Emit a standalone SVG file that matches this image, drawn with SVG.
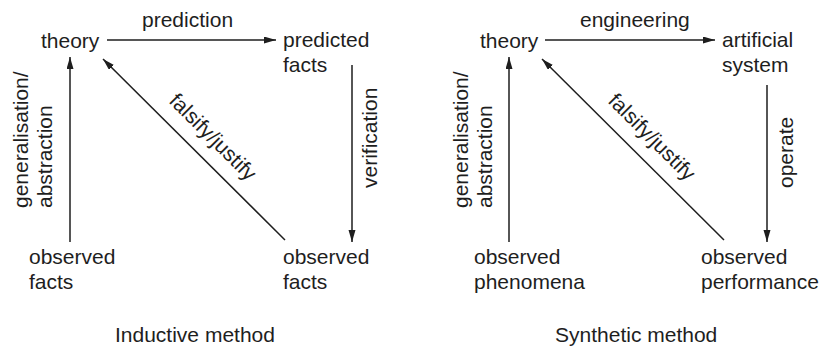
<svg xmlns="http://www.w3.org/2000/svg" width="824" height="354" viewBox="0 0 824 354">
<defs>
<style>
text{font-family:"Liberation Sans",Arial,sans-serif;font-size:21px;fill:#1e1e1e}
.c{stroke:#1e1e1e;stroke-width:1.5;fill:none;marker-end:url(#ah)}
</style>
<marker id="ah" markerUnits="userSpaceOnUse" markerWidth="13" markerHeight="8" refX="12" refY="3.5" orient="auto">
<path d="M0,0 L12,3.5 L0,7 z" fill="#1e1e1e"/>
</marker>
</defs>
<rect width="824" height="354" fill="#ffffff"/>
<g id="connectors">
<line class="c" x1="107" y1="40" x2="276" y2="40"/>
<line class="c" x1="352" y1="65" x2="352" y2="242"/>
<line class="c" x1="70" y1="242" x2="70" y2="57"/>
<line class="c" x1="285" y1="240" x2="103" y2="59"/>
<line class="c" x1="545" y1="40" x2="715" y2="40"/>
<line class="c" x1="767" y1="85" x2="767" y2="242"/>
<line class="c" x1="509" y1="242" x2="509" y2="57"/>
<line class="c" x1="724" y1="240" x2="542" y2="59"/>
</g>
<g id="labels">
<text x="142" y="27">prediction</text>
<text transform="translate(377,188) rotate(-90)">verification</text>
<text transform="translate(28,208) rotate(-90)"><tspan x="0" y="0">generalisation/</tspan><tspan x="0" y="24">abstraction</tspan></text>
<text transform="translate(208,142) rotate(45)" text-anchor="middle">falsify/justify</text>
<text x="580" y="27">engineering</text>
<text transform="translate(793,188) rotate(-90)">operate</text>
<text transform="translate(468,208) rotate(-90)"><tspan x="0" y="0">generalisation/</tspan><tspan x="0" y="24">abstraction</tspan></text>
<text transform="translate(647,142) rotate(45)" text-anchor="middle">falsify/justify</text>
</g>
<g id="inductive-theory"><text x="41" y="48">theory</text></g>
<g id="inductive-predicted"><text x="283" y="47">predicted</text><text x="283" y="72">facts</text></g>
<g id="inductive-observed-left"><text x="29" y="264">observed</text><text x="29" y="289">facts</text></g>
<g id="inductive-observed-right"><text x="283" y="264">observed</text><text x="283" y="289">facts</text></g>
<g id="inductive-title"><text x="115" y="342">Inductive method</text></g>
<g id="synthetic-theory"><text x="480" y="48">theory</text></g>
<g id="synthetic-artificial"><text x="722" y="47">artificial</text><text x="722" y="72">system</text></g>
<g id="synthetic-phenomena"><text x="474" y="264">observed</text><text x="474" y="289">phenomena</text></g>
<g id="synthetic-performance"><text x="701" y="264">observed</text><text x="701" y="289">performance</text></g>
<g id="synthetic-title"><text x="555" y="342">Synthetic method</text></g>
</svg>
